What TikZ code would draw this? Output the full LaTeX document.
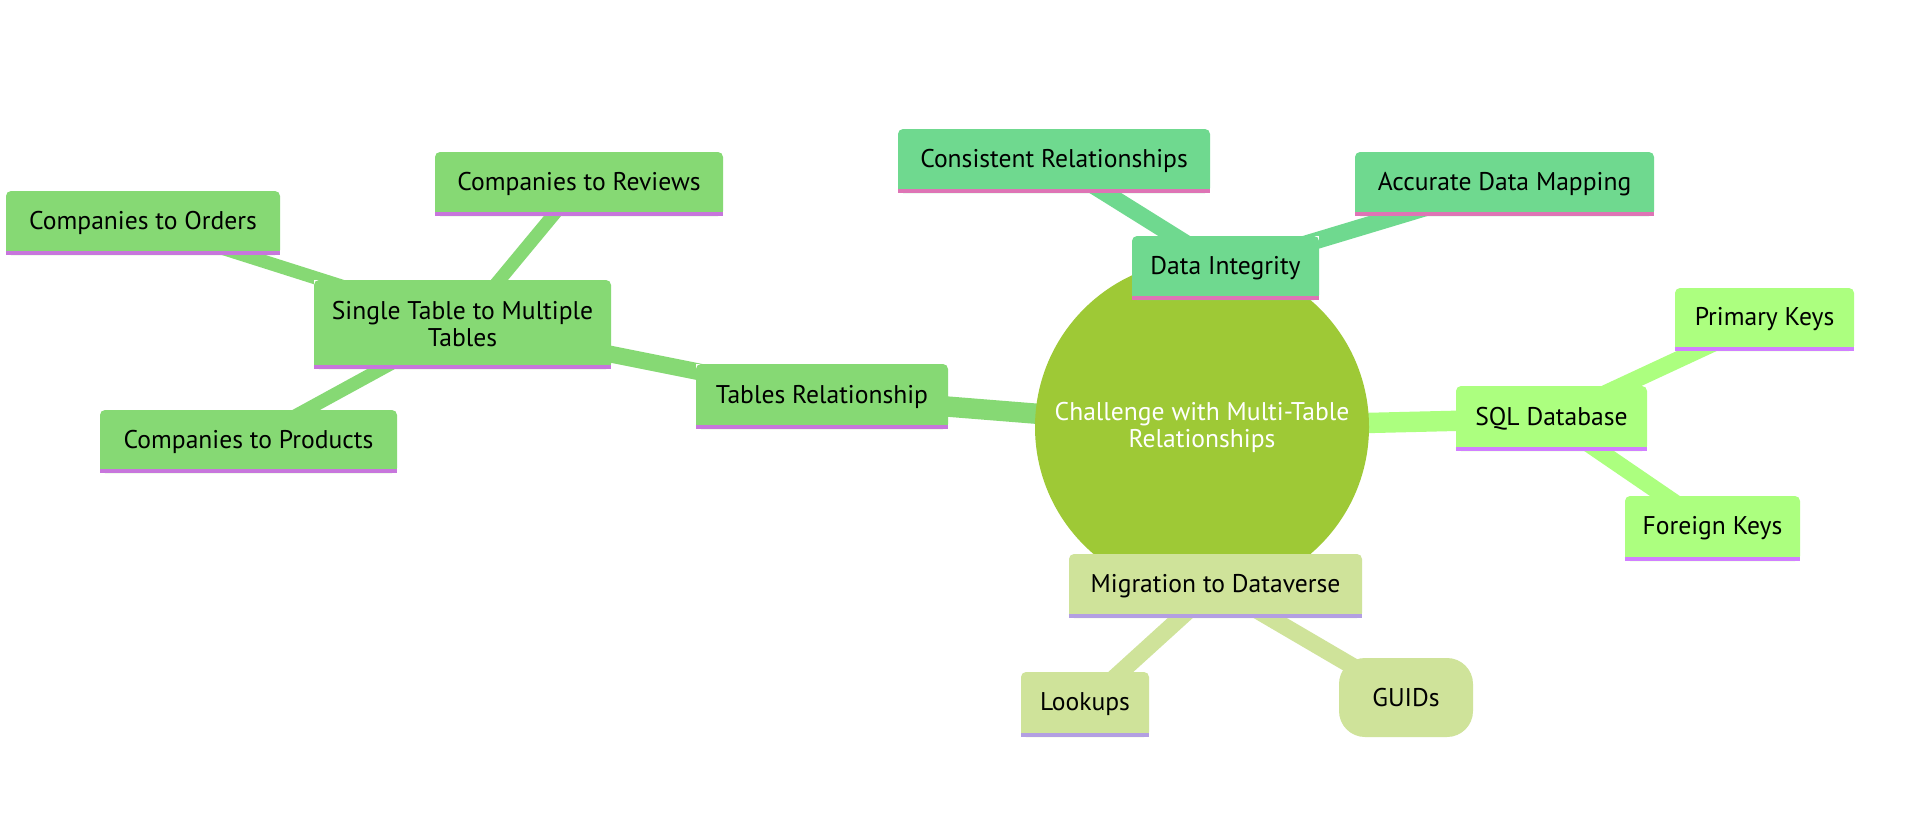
\documentclass[tikz,border=0pt]{standalone}
\usepackage{fontspec}
\newfontfamily\mmfont{PT Sans}
\usetikzlibrary{backgrounds}
\definecolor{rootc}{RGB}{158,201,54}
\definecolor{ga}{RGB}{134,217,116}
\definecolor{gal}{RGB}{199,118,220}
\definecolor{gb}{RGB}{111,217,143}
\definecolor{gbl}{RGB}{222,116,181}
\definecolor{gc}{RGB}{172,255,127}
\definecolor{gcl}{RGB}{209,128,255}
\definecolor{gd}{RGB}{207,227,154}
\definecolor{gdl}{RGB}{179,159,226}
\begin{document}
\begin{tikzpicture}[x=1pt,y=-1pt,
  txt/.style={font=\mmfont\fontsize{25.6}{27}\selectfont, align=center, inner sep=0pt},
  mm/.style 2 args={rectangle, txt, text=black, fill=#1,
    path picture={
      \fill[white] (path picture bounding box.north west) rectangle ([yshift=-6pt]path picture bounding box.north east);
      \fill[#1, rounded corners=5pt] (path picture bounding box.south west) rectangle (path picture bounding box.north east);
      \fill[#2] (path picture bounding box.south west) rectangle ([yshift=4pt]path picture bounding box.south east);
    }},
  boxa/.style={mm={ga}{gal}},
  boxb/.style={mm={gb}{gbl}},
  boxc/.style={mm={gc}{gcl}},
  boxd/.style={mm={gd}{gdl}},
  pill/.style={rectangle, txt, text=black, fill=gd, rounded corners=26pt},
  rootnode/.style={circle, txt, text=white, fill=rootc, minimum size=334pt},
  sz/.style n args={2}{minimum width=#1pt, minimum height=#2pt},
  e0/.style={line width=20.4pt},
  e1/.style={line width=16.8pt},
  e2/.style={line width=13.2pt}]
\useasboundingbox (0,0) rectangle (1911,816);

\node[rootnode] (root) at (1202,427) {Challenge with Multi-Table\\Relationships};

\node[boxa, sz={252}{65}] (tables) at (822,396.5) {Tables Relationship};
\node[boxa, sz={297}{89}] (single) at (462.5,324.5) {Single Table to Multiple\\Tables};
\node[boxa, sz={274}{64}] (orders) at (143,223) {Companies to Orders};
\node[boxa, sz={288}{64}] (reviews) at (579,184) {Companies to Reviews};
\node[boxa, sz={297}{63}] (products) at (248.5,441.5) {Companies to Products};

\node[boxb, sz={187}{64}] (di) at (1225.5,268) {Data Integrity};
\node[boxb, sz={312}{64}] (consistent) at (1054,161) {Consistent Relationships};
\node[boxb, sz={299}{64}] (accurate) at (1504.5,184) {Accurate Data Mapping};

\node[boxc, sz={191}{65}] (sql) at (1551.5,418.5) {SQL Database};
\node[boxc, sz={179}{63}] (primary) at (1764.5,319.5) {Primary Keys};
\node[boxc, sz={175}{65}] (foreign) at (1712.5,528.5) {Foreign Keys};

\node[boxd, sz={293}{64}] (migration) at (1215.5,586) {Migration to Dataverse};
\node[boxd, sz={128}{65}] (lookups) at (1085,704.5) {Lookups};
\node[pill, sz={134}{79}] (guids) at (1406,697.5) {GUIDs};

\begin{pgfonlayer}{background}
\fill[white] (0,0) rectangle (1911,816);
\draw[e0, ga] (root.center) -- (tables.center);
\draw[e1, ga] (tables.center) -- (single.center);
\draw[e2, ga] (single.center) -- (orders.center);
\draw[e2, ga] (single.center) -- (reviews.center);
\draw[e2, ga] (single.center) -- (products.center);
\draw[e0, gb] (root.center) -- (di.center);
\draw[e1, gb] (di.center) -- (consistent.center);
\draw[e1, gb] (di.center) -- (accurate.center);
\draw[e0, gc] (root.center) -- (sql.center);
\draw[e1, gc] (sql.center) -- (primary.center);
\draw[e1, gc] (sql.center) -- (foreign.center);
\draw[e0, gd] (root.center) -- (migration.center);
\draw[e1, gd] (migration.center) -- (lookups.center);
\draw[e1, gd] (migration.center) -- (guids.center);
\end{pgfonlayer}
\end{tikzpicture}
\end{document}
